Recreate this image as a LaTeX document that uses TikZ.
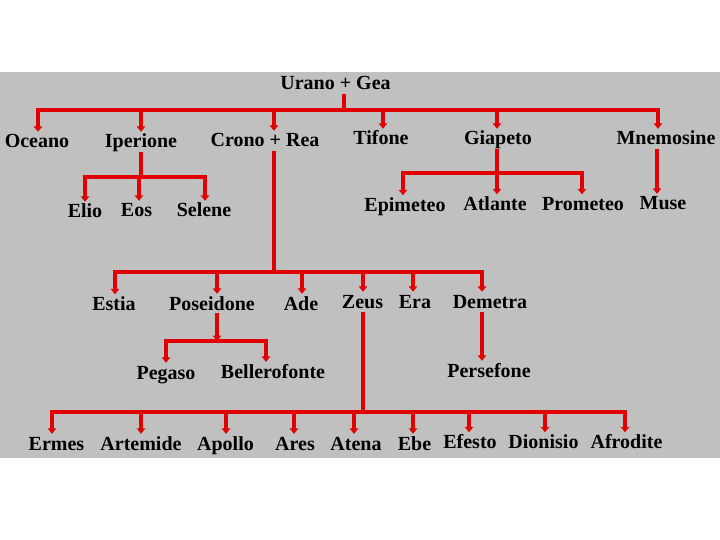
\documentclass[tikz,border=0pt]{standalone}
\usepackage{fontspec}
\setmainfont{Liberation Serif}
\usetikzlibrary{arrows.meta}
\definecolor{treered}{RGB}{225,0,0}
\definecolor{panel}{RGB}{192,192,192}
\tikzset{
  god/.style={font=\fontsize{20}{24}\selectfont\bfseries, anchor=base, inner sep=1pt, text height=15pt, text depth=4pt},
  link/.style={treered, line width=3.2pt, line cap=rect},
  child/.style={link, -{Triangle[width=8.5pt,length=5.5pt]}},
}
\begin{document}
\begin{tikzpicture}[x=1pt,y=-1pt]
\useasboundingbox (0,0) rectangle (720,540);
\fill[panel] (0,72) rectangle (720,458);

% names
\node[god] (urano) at (335.5,90) {Urano + Gea};
\node[god] (oceano) at (37,148) {Oceano};
\node[god] (iperione) at (141,148) {Iperione};
\node[god] (crono) at (265,147) {Crono + Rea};
\node[god] (tifone) at (381,145) {Tifone};
\node[god] (giapeto) at (498,145) {Giapeto};
\node[god] (mnemosine) at (666,145) {Mnemosine};

\node[god] (elio) at (85,218) {Elio};
\node[god] (eos) at (136.5,217) {Eos};
\node[god] (selene) at (204,217) {Selene};
\node[god] (epimeteo) at (405,211.5) {Epimeteo};
\node[god] (atlante) at (495,210.5) {Atlante};
\node[god] (prometeo) at (583,210.5) {Prometeo};
\node[god] (muse) at (663,210) {Muse};

\node[god] (estia) at (114,310.5) {Estia};
\node[god] (poseidone) at (212,310) {Poseidone};
\node[god] (ade) at (301,310) {Ade};
\node[god] (zeus) at (362.5,308) {Zeus};
\node[god] (era) at (415,308) {Era};
\node[god] (demetra) at (490,308) {Demetra};

\node[god] (pegaso) at (166,379) {Pegaso};
\node[god] (bellerofonte) at (273,378) {Bellerofonte};
\node[god] (persefone) at (489,377) {Persefone};

\node[god] (ermes) at (56.5,450) {Ermes};
\node[god] (artemide) at (141,450) {Artemide};
\node[god] (apollo) at (225.5,450) {Apollo};
\node[god] (ares) at (295,450) {Ares};
\node[god] (atena) at (356,450) {Atena};
\node[god] (ebe) at (414.5,450) {Ebe};
\node[god] (efesto) at (470,448.5) {Efesto};
\node[god] (dionisio) at (543.5,448.5) {Dionisio};
\node[god] (afrodite) at (626.5,448.5) {Afrodite};

% Urano + Gea
\coordinate (ug) at (344,110);
\draw[link] (urano.south -| ug) -- (ug);
\foreach \x/\n in {38/oceano, 141/iperione, 274/crono, 383/tifone, 497/giapeto, 658/mnemosine} {
  \coordinate (ug-\n) at (\x,110);
  \draw[child] (ug-\n) -- (ug-\n |- \n.north);
}
\draw[link] (ug-oceano) -- (ug-mnemosine);

% Iperione
\coordinate (ip) at (141,177);
\draw[link] (iperione.south -| ip) -- (ip);
\foreach \x/\n in {85/elio, 139/eos, 205/selene} {
  \coordinate (ip-\n) at (\x,177);
  \draw[child] (ip-\n) -- (ip-\n |- \n.north);
}
\draw[link] (ip-elio) -- (ip-selene);

% Giapeto
\coordinate (gi) at (497,173);
\draw[link] (giapeto.south -| gi) -- (gi);
\foreach \x/\n in {403/epimeteo, 497/atlante, 582/prometeo} {
  \coordinate (gi-\n) at (\x,173);
  \draw[child] (gi-\n) -- (gi-\n |- \n.north);
}
\draw[link] (gi-epimeteo) -- (gi-prometeo);

% Mnemosine
\coordinate (mn) at (657,0);
\draw[child] (mnemosine.south -| mn) -- (muse.north -| mn);

% Crono + Rea
\coordinate (cr) at (274,272);
\draw[link] (crono.south -| cr) -- (cr);
\foreach \x/\n in {115/estia, 217/poseidone, 302/ade, 363/zeus, 413/era, 482/demetra} {
  \coordinate (cr-\n) at (\x,272);
  \draw[child] (cr-\n) -- (cr-\n |- \n.north);
}
\draw[link] (cr-estia) -- (cr-demetra);

% Poseidone
\coordinate (po) at (217,341);
\draw[child, line width=4.5pt] (poseidone.south -| po) -- (po);
\foreach \x/\n in {166/pegaso, 266/bellerofonte} {
  \coordinate (po-\n) at (\x,341);
  \draw[child] (po-\n) -- (po-\n |- \n.north);
}
\draw[link] (po-pegaso) -- (po-bellerofonte);

% Demetra
\coordinate (de) at (482,0);
\draw[child] (demetra.south -| de) -- (persefone.north -| de);

% Zeus
\coordinate (ze) at (363,412);
\draw[link] (zeus.south -| ze) -- (ze);
\foreach \x/\n in {52/ermes, 141/artemide, 226/apollo, 294/ares, 354/atena, 413/ebe, 469/efesto, 545/dionisio, 625/afrodite} {
  \coordinate (ze-\n) at (\x,412);
  \draw[child] (ze-\n) -- (ze-\n |- \n.north);
}
\draw[link] (ze-ermes) -- (ze-afrodite);
\end{tikzpicture}
\end{document}
